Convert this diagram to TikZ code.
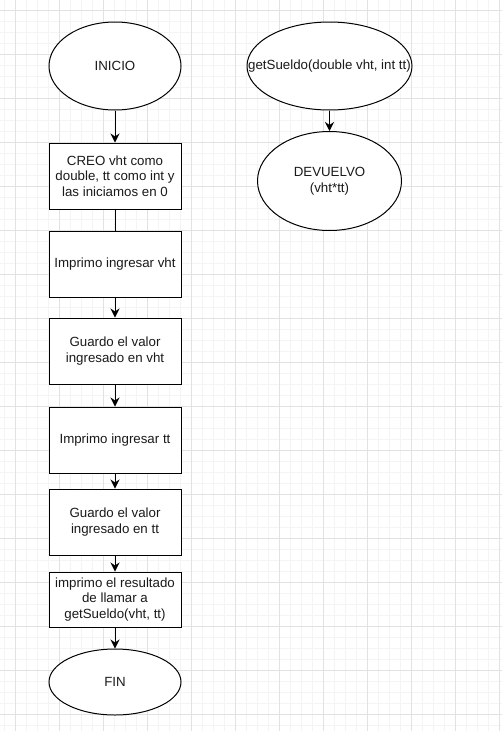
\documentclass[tikz,border=0pt]{standalone}
\usepackage{fontspec}
\setmainfont{Liberation Sans}
\usetikzlibrary{shapes.geometric,arrows.meta}
\definecolor{gridmajor}{HTML}{E2E2E2}
\definecolor{gridminor}{HTML}{F4F4F4}
\definecolor{txt}{HTML}{1A1A1A}
\tikzset{
  x=1pt, y=-1pt,
  every node/.style={font=\fontsize{13.3}{15.7}\selectfont, align=center, text=txt},
  procbox/.style={draw=black, line width=1pt, fill=white, minimum width=132pt, inner sep=0pt},
  term/.style={draw=black, line width=1pt, fill=white, ellipse, inner sep=0pt},
  flow/.style={draw=black, line width=1pt, -{Stealth[length=9pt,width=9pt,inset=3pt]}},
  plainflow/.style={draw=black, line width=1pt},
}
\begin{document}
\begin{tikzpicture}
\useasboundingbox (0,0) rectangle (502,731);
\fill[white] (0,0) rectangle (502,731);
% minor grid
\foreach \i in {0,...,45} {
  \draw[gridminor, line width=0.8pt] ({4+11*\i},0) -- ({4+11*\i},731);
}
\foreach \j in {0,...,65} {
  \draw[gridminor, line width=0.8pt] (0,{10+11*\j}) -- (502,{10+11*\j});
}
% major grid
\foreach \i in {0,...,11} {
  \draw[gridmajor, line width=1pt] ({15+44*\i},0) -- ({15+44*\i},731);
}
\foreach \j in {0,...,16} {
  \draw[gridmajor, line width=1pt] (0,{10+44*\j}) -- (502,{10+44*\j});
}
% left column
\node[term, minimum width=132pt, minimum height=88pt, label={center:INICIO}] (inicio) at (115,66) {};
\node[procbox, minimum height=66pt] (b1) at (115,176) {CREO vht como\\double, tt como int y\\las iniciamos en 0};
\node[procbox, minimum height=66pt] (b2) at (115,264) {Imprimo ingresar vht};
\node[procbox, minimum height=66pt] (b3) at (115,351) {Guardo el valor\\ingresado en vht};
\node[procbox, minimum height=66pt] (b4) at (115,440) {Imprimo ingresar tt};
\node[procbox, minimum height=66pt] (b5) at (115,522) {Guardo el valor\\ingresado en tt};
\node[procbox, minimum height=55pt] (b6) at (115,599.5) {imprimo el resultado\\de llamar a\\getSueldo(vht, tt)};
\node[term, minimum width=132pt, minimum height=66pt, label={center:FIN}] (fin) at (115,682) {};
% right column
\node[term, minimum width=165pt, minimum height=88pt, label={center:getSueldo(double vht, int tt)}] (gs) at (329.5,66) {};
\node[term, minimum width=144pt, minimum height=99pt, label={center:DEVUELVO\\(vht*tt)}] (dev) at (329.5,181) {};
% connectors
\draw[flow] (inicio) -- (b1);
\draw[plainflow] (b1) -- (b2);
\draw[flow] (b2) -- (b3);
\draw[flow] (b3) -- (b4);
\draw[flow] (b4) -- (b5);
\draw[flow] (b5) -- (b6);
\draw[flow] (b6) -- (fin);
\draw[flow] (gs) -- (dev);
\end{tikzpicture}
\end{document}
